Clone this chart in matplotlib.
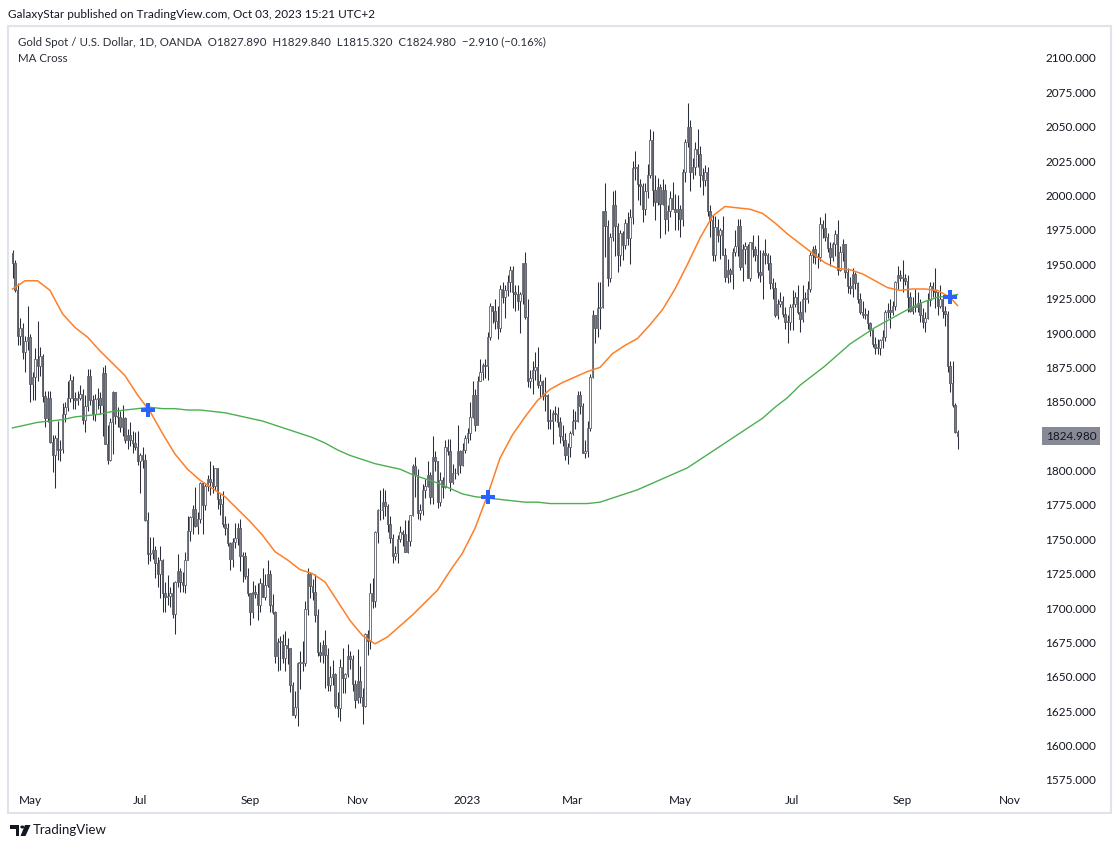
import numpy as np
import pandas as pd
import matplotlib
matplotlib.use("Agg")
import matplotlib.pyplot as plt
import matplotlib.transforms as mtransforms
from matplotlib.patches import Rectangle, Polygon, Circle

# daily XAUUSD candles, 2022-04-21 .. 2023-10-03 (business days)
first_open = 1958.0

close = [
    # Apr 2022
    1951, 1931, 1898, 1904, 1886, 1894, 1897,
    # May
    1863, 1868, 1881, 1876, 1883, 1854, 1838, 1853, 1821, 1811, 1824, 1815, 1816, 1841, 1846, 1853, 1866, 1853, 1851, 1853, 1856, 1837,
    # Jun
    1847, 1869, 1851, 1841, 1852, 1853, 1848, 1871, 1819, 1808, 1835, 1857, 1840, 1839, 1832, 1838, 1822, 1826, 1822, 1820, 1817, 1807,
    # Jul
    1811, 1808, 1764, 1739, 1740, 1742, 1733, 1725, 1735, 1711, 1708, 1709, 1711, 1696, 1719, 1727, 1719, 1717, 1735, 1756, 1766,
    # Aug
    1772, 1760, 1765, 1791, 1775, 1789, 1794, 1792, 1789, 1802, 1779, 1776, 1761, 1758, 1747, 1736, 1748, 1751, 1758, 1738, 1738, 1723, 1711,
    # Sep
    1697, 1712, 1710, 1702, 1718, 1708, 1717, 1725, 1702, 1697, 1665, 1675, 1676, 1664, 1673, 1671, 1644, 1622, 1628, 1660, 1660, 1660,
    # Oct
    1699, 1725, 1716, 1712, 1695, 1668, 1666, 1673, 1666, 1644, 1650, 1652, 1629, 1627, 1657, 1649, 1652, 1665, 1663, 1645, 1633,
    # Nov
    1647, 1635, 1629, 1681, 1676, 1711, 1705, 1755, 1771, 1771, 1777, 1774, 1761, 1751, 1738, 1740, 1750, 1755, 1754, 1741, 1749, 1768,
    # Dec
    1803, 1797, 1769, 1771, 1786, 1789, 1797, 1781, 1810, 1807, 1777, 1793, 1788, 1817, 1814, 1792, 1798, 1798, 1814, 1804, 1815, 1824,
    # Jan 2023
    1827, 1839, 1855, 1833, 1865, 1872, 1877, 1876, 1897, 1920, 1916, 1909, 1904, 1932, 1926, 1931, 1937, 1946, 1930, 1928, 1923, 1928,
    # Feb
    1951, 1912, 1865, 1867, 1873, 1875, 1862, 1865, 1854, 1855, 1836, 1836, 1842, 1841, 1835, 1825, 1822, 1811, 1817, 1827,
    # Mar
    1836, 1836, 1855, 1847, 1813, 1814, 1831, 1868, 1913, 1904, 1918, 1919, 1989, 1978, 1940, 1970, 1993, 1978, 1957, 1973, 1964, 1980, 1969,
    # Apr
    1984, 2020, 2021, 2008, 2007, 1990, 2003, 2015, 2040, 2004, 1995, 2006, 1994, 2004, 1983, 1989, 1998, 1990, 1988, 1990,
    # May
    1983, 2017, 2039, 2050, 2017, 2021, 2034, 2030, 2015, 2011, 2017, 1989, 1982, 1957, 1977, 1971, 1975, 1957, 1941, 1946, 1943, 1959, 1963,
    # Jun
    1978, 1948, 1961, 1963, 1940, 1966, 1961, 1957, 1944, 1942, 1958, 1957, 1951, 1936, 1933, 1913, 1921, 1923, 1914, 1908, 1908, 1919,
    # Jul
    1921, 1926, 1915, 1910, 1925, 1925, 1932, 1957, 1961, 1955, 1955, 1979, 1976, 1970, 1962, 1955, 1965, 1972, 1946, 1959, 1965,
    # Aug
    1944, 1934, 1933, 1943, 1936, 1925, 1915, 1913, 1914, 1907, 1902, 1892, 1889, 1889, 1895, 1897, 1915, 1917, 1915, 1920, 1937, 1942, 1940,
    # Sep
    1940, 1938, 1926, 1916, 1919, 1919, 1922, 1913, 1908, 1911, 1924, 1934, 1931, 1930, 1920, 1925, 1916, 1914, 1876, 1864, 1848,
    # Oct
    1828, 1824.98,
]

high = [
    1960, 1953, 1936, 1911, 1907, 1898, 1920,
    1899, 1872, 1889, 1909, 1890, 1885, 1858, 1858, 1858, 1826, 1826, 1836, 1822, 1849, 1850, 1865, 1870, 1869, 1857, 1858, 1862, 1859,
    1855, 1874, 1874, 1855, 1856, 1860, 1857, 1875, 1877, 1833, 1838, 1858, 1857, 1846, 1843, 1848, 1839, 1830, 1835, 1829, 1828, 1829,
    1813, 1817, 1812, 1770, 1752, 1752, 1745, 1737, 1745, 1736, 1719, 1724, 1715, 1719, 1720, 1739, 1729, 1726, 1741, 1767, 1767,
    1775, 1788, 1770, 1792, 1792, 1790, 1797, 1807, 1804, 1802, 1800, 1783, 1785, 1767, 1762, 1748, 1751, 1762, 1762, 1765, 1741, 1741, 1729,
    1711, 1720, 1717, 1718, 1722, 1729, 1725, 1735, 1728, 1710, 1698, 1678, 1680, 1681, 1683, 1678, 1671, 1646, 1640, 1661, 1669, 1676,
    1705, 1729, 1726, 1721, 1725, 1699, 1675, 1677, 1684, 1671, 1658, 1662, 1653, 1639, 1663, 1671, 1653, 1674, 1669, 1666, 1648,
    1670, 1658, 1642, 1682, 1684, 1718, 1722, 1756, 1772, 1786, 1787, 1786, 1776, 1767, 1754, 1745, 1753, 1760, 1757, 1764, 1764, 1768,
    1805, 1810, 1801, 1776, 1790, 1794, 1807, 1799, 1825, 1814, 1806, 1799, 1795, 1822, 1823, 1823, 1805, 1802, 1833, 1815, 1820, 1826,
    1831, 1850, 1865, 1859, 1869, 1881, 1878, 1881, 1901, 1922, 1920, 1925, 1920, 1935, 1937, 1935, 1942, 1949, 1949, 1935, 1935, 1930,
    1951, 1959, 1925, 1873, 1880, 1886, 1890, 1870, 1866, 1868, 1856, 1845, 1844, 1847, 1846, 1839, 1833, 1827, 1820, 1829,
    1845, 1843, 1858, 1858, 1849, 1822, 1836, 1870, 1917, 1913, 1937, 1937, 1989, 2009, 1982, 1973, 2003, 2004, 1980, 1975, 1974, 1983, 1988,
    1990, 2025, 2032, 2023, 2012, 2009, 2009, 2023, 2048, 2047, 2015, 2013, 2008, 2012, 2008, 1993, 2003, 2010, 2001, 2000,
    1993, 2019, 2041, 2067, 2055, 2027, 2039, 2048, 2036, 2020, 2022, 2021, 1993, 1986, 1985, 1983, 1976, 1985, 1962, 1954, 1947, 1962, 1975,
    1983, 1983, 1965, 1966, 1965, 1966, 1971, 1963, 1971, 1960, 1960, 1968, 1958, 1957, 1940, 1937, 1925, 1930, 1927, 1919, 1913, 1921,
    1931, 1930, 1935, 1923, 1935, 1930, 1938, 1959, 1963, 1964, 1958, 1984, 1982, 1987, 1973, 1966, 1966, 1975, 1982, 1963, 1968,
    1965, 1947, 1941, 1947, 1944, 1937, 1929, 1923, 1918, 1917, 1908, 1903, 1897, 1896, 1896, 1902, 1917, 1922, 1925, 1923, 1938, 1949, 1946,
    1953, 1943, 1942, 1930, 1926, 1932, 1930, 1925, 1918, 1915, 1929, 1937, 1937, 1947, 1930, 1935, 1925, 1920, 1916, 1880, 1880,
    1849, 1829.84,
]

low = [
    1940, 1930, 1891, 1891, 1881, 1872, 1888,
    1850, 1851, 1851, 1865, 1869, 1850, 1832, 1835, 1820, 1799, 1787, 1808, 1807, 1813, 1835, 1843, 1850, 1845, 1845, 1848, 1851, 1834,
    1828, 1843, 1848, 1837, 1836, 1845, 1841, 1825, 1819, 1805, 1807, 1812, 1834, 1832, 1828, 1825, 1820, 1816, 1818, 1813, 1815, 1804,
    1784, 1802, 1763, 1732, 1734, 1736, 1722, 1715, 1707, 1697, 1697, 1702, 1701, 1693, 1681, 1715, 1712, 1712, 1711, 1736, 1749,
    1754, 1759, 1754, 1762, 1754, 1771, 1785, 1782, 1784, 1786, 1772, 1768, 1759, 1753, 1745, 1728, 1730, 1744, 1746, 1727, 1719, 1721, 1709,
    1688, 1693, 1707, 1691, 1697, 1708, 1706, 1715, 1697, 1696, 1660, 1654, 1655, 1660, 1654, 1659, 1639, 1622, 1620, 1614, 1641, 1654,
    1658, 1695, 1707, 1706, 1690, 1665, 1661, 1660, 1642, 1640, 1640, 1644, 1627, 1621, 1618, 1638, 1638, 1650, 1656, 1640, 1627,
    1631, 1631, 1616, 1628, 1666, 1670, 1700, 1701, 1747, 1764, 1765, 1767, 1755, 1747, 1733, 1735, 1733, 1748, 1745, 1741, 1740, 1745,
    1767, 1781, 1765, 1764, 1768, 1780, 1788, 1776, 1776, 1800, 1773, 1774, 1780, 1787, 1811, 1785, 1790, 1794, 1797, 1798, 1803, 1813,
    1820, 1822, 1838, 1829, 1833, 1865, 1866, 1867, 1866, 1895, 1907, 1903, 1896, 1901, 1922, 1911, 1927, 1930, 1918, 1916, 1917, 1900,
    1921, 1910, 1861, 1860, 1856, 1866, 1860, 1853, 1851, 1843, 1830, 1830, 1819, 1836, 1832, 1820, 1818, 1808, 1805, 1810,
    1826, 1830, 1835, 1841, 1813, 1809, 1810, 1829, 1867, 1893, 1897, 1903, 1918, 1955, 1934, 1937, 1967, 1956, 1944, 1949, 1953, 1961, 1964,
    1950, 1979, 2011, 1997, 1993, 1981, 1986, 1998, 2013, 1992, 1982, 1993, 1969, 1993, 1972, 1974, 1984, 1991, 1975, 1975,
    1970, 1978, 2010, 2035, 2003, 2012, 2015, 2021, 2006, 2000, 2007, 1985, 1970, 1952, 1952, 1966, 1954, 1957, 1937, 1936, 1937, 1932, 1956,
    1956, 1946, 1938, 1950, 1940, 1938, 1955, 1952, 1940, 1937, 1925, 1950, 1946, 1932, 1925, 1912, 1910, 1919, 1912, 1903, 1893, 1902,
    1902, 1919, 1914, 1901, 1908, 1915, 1922, 1930, 1951, 1950, 1947, 1952, 1969, 1967, 1959, 1949, 1952, 1956, 1942, 1945, 1952,
    1940, 1929, 1928, 1926, 1932, 1922, 1914, 1911, 1910, 1903, 1898, 1890, 1885, 1885, 1884, 1889, 1894, 1911, 1904, 1913, 1917, 1932, 1938,
    1930, 1935, 1915, 1915, 1914, 1915, 1915, 1908, 1904, 1901, 1910, 1920, 1926, 1918, 1913, 1918, 1911, 1905, 1872, 1857, 1846,
    1827, 1815.32,
]

# moving averages read every 5th bar (plus the last bar)
ma_fast = [
    1932, 1938, 1938, 1931, 1914, 1904, 1897, 1887, 1878, 1869,
    1855, 1843, 1827, 1812, 1801, 1793, 1787, 1781, 1772, 1763,
    1753, 1741, 1735, 1728, 1725, 1719, 1705, 1691, 1680, 1674,
    1679, 1687, 1695, 1704, 1713, 1727, 1740, 1758, 1782, 1809,
    1826, 1839, 1851, 1859, 1864, 1868, 1872, 1875, 1885, 1891,
    1896, 1906, 1917, 1932, 1950, 1969, 1985, 1992, 1991, 1990,
    1987, 1980, 1972, 1965, 1958, 1951, 1947, 1946, 1943, 1938,
    1933, 1931, 1932, 1932, 1931, 1926,
    1920,
]
ma_slow = [
    1831, 1833, 1835, 1836, 1837, 1839, 1840, 1841, 1843, 1844,
    1845, 1846, 1845, 1845, 1844, 1844, 1843, 1842, 1840, 1838,
    1836, 1833, 1830, 1827, 1824, 1820, 1815, 1811, 1808, 1805,
    1803, 1801, 1797, 1794, 1791, 1787, 1783, 1781, 1780, 1779,
    1778, 1777, 1777, 1776, 1776, 1776, 1776, 1777, 1780, 1783,
    1786, 1790, 1794, 1798, 1802, 1808, 1814, 1820, 1826, 1832,
    1838, 1846, 1853, 1862, 1869, 1876, 1884, 1892, 1898, 1904,
    1909, 1914, 1919, 1923, 1926, 1927,
    1928,
]

cross_dates = ["2022-07-06", "2023-01-12", "2023-09-28"]
cross_values = [1844, 1781, 1926]

month_dates = ["2022-05-02", "2022-07-01", "2022-09-01", "2022-11-01", "2023-01-02",
               "2023-03-01", "2023-05-01", "2023-07-03", "2023-09-01", "2023-11-01"]
month_labels = ["May", "Jul", "Sep", "Nov", "2023", "Mar", "May", "Jul", "Sep", "Nov"]

price_ticks = np.arange(1575, 2101, 25)

# ---------------------------------------------------------------
W, H = 1119, 849
plt.rcParams["font.family"] = ["Lato", "DejaVu Sans"]
fig = plt.figure(figsize=(W / 100, H / 100), dpi=100)
fig.patch.set_facecolor("white")


def fx(px):
    return px / W


def fy(py):
    return 1 - py / H


ax = fig.add_axes([fx(9), fy(787), fx(1036) - fx(9), fy(27) - fy(787)])

dates = pd.bdate_range("2022-04-21", "2023-10-03")
axis_days = pd.bdate_range("2022-04-21", "2023-12-29")
pos = pd.Series(np.arange(len(axis_days)), index=axis_days)

c = np.asarray(close, dtype=float)
h = np.asarray(high, dtype=float)
l = np.asarray(low, dtype=float)
x = np.arange(len(dates))
o = np.r_[first_open, c[:-1]]
hi = np.maximum(h, np.maximum(o, c))
lo = np.minimum(l, np.minimum(o, c))
up = c >= o

body_lo = np.minimum(o, c)
body_h = np.maximum(np.abs(c - o), 0.5)

ax.vlines(x, lo, hi, color="#2a2e39", lw=0.75, zorder=2)
ax.bar(x[up], body_h[up], bottom=body_lo[up], width=0.75, color="white",
       edgecolor="#5d606b", linewidth=0.6, zorder=3)
ax.bar(x[~up], body_h[~up], bottom=body_lo[~up], width=0.75, color="#7b7e89",
       edgecolor="#55585f", linewidth=0.6, zorder=3)

ma_x = np.r_[x[::5], x[-1]]
ax.plot(ma_x, ma_slow, color="#4caf50", lw=1.0, zorder=4, solid_joinstyle="round")
ax.plot(ma_x, ma_fast, color="#ff7f27", lw=1.1, zorder=4, solid_joinstyle="round")

cross_x = pos[pd.to_datetime(cross_dates)].values
ax.plot(cross_x, cross_values, "P", ms=10, color="#2962ff", mec="#2962ff",
        mew=0, zorder=5)

ax.set_xlim(-1.4, 409.4)
ax.set_ylim(1569.9, 2122.5)

for s in ax.spines.values():
    s.set_visible(False)

ax.yaxis.tick_right()
ax.set_yticks(price_ticks)
ax.set_yticklabels([f"{v:.3f}" for v in price_ticks])
ax.set_xticks(pos[pd.to_datetime(month_dates)].values)
ax.set_xticklabels(month_labels)
ax.tick_params(axis="y", length=0, pad=6.5, labelsize=8.5, labelcolor="#131722")
ax.tick_params(axis="x", length=0, pad=6, labelsize=8.5, labelcolor="#131722")

# last price label
trans = mtransforms.offset_copy(ax.get_yaxis_transform(), fig=fig, x=10, y=0, units="dots")
ax.text(1.0, c[-1], f"{c[-1]:.3f}", transform=trans, ha="left", va="center",
        fontsize=8.5, color="#131722", clip_on=False, zorder=10,
        bbox=dict(boxstyle="square,pad=0.3", fc="#878a94", ec="none"))

# pane border
fig.add_artist(Rectangle((fx(8), fy(813)), fx(1111) - fx(8), fy(26) - fy(813),
                         transform=fig.transFigure, fill=False, ec="#e0e3eb", lw=1.5))

fig.text(fx(8), fy(14), "GalaxyStar published on TradingView.com, Oct 03, 2023 15:21 UTC+2",
         fontsize=8.5, color="#131722", va="center", ha="left")
fig.text(fx(18), fy(42),
         "Gold Spot / U.S. Dollar, 1D, OANDA  O1827.890  H1829.840  L1815.320  C1824.980  \u22122.910 (\u22120.16%)",
         fontsize=8.3, color="#2a2e39", va="center", ha="left")
fig.text(fx(18), fy(59), "MA Cross", fontsize=8.3, color="#2a2e39", va="center", ha="left")

# TradingView logo
logo = "#131722"
fig.add_artist(Polygon([(fx(10), fy(825)), (fx(19), fy(825)), (fx(19), fy(836)),
                        (fx(15.5), fy(836)), (fx(15.5), fy(828.5)), (fx(10), fy(828.5))],
                       closed=True, transform=fig.transFigure, fc=logo, ec="none"))
fig.add_artist(Circle((fx(22.3), fy(827)), 2.0 / W, transform=fig.transFigure, fc=logo, ec="none"))
fig.add_artist(Polygon([(fx(25), fy(825)), (fx(30.5), fy(825)), (fx(25.5), fy(836)),
                        (fx(20.5), fy(836))],
                       closed=True, transform=fig.transFigure, fc=logo, ec="none"))
fig.text(fx(33), fy(830.5), "TradingView", fontsize=9.5, color=logo, va="center", ha="left")

fig.savefig("out.png", dpi=100, facecolor="white")
